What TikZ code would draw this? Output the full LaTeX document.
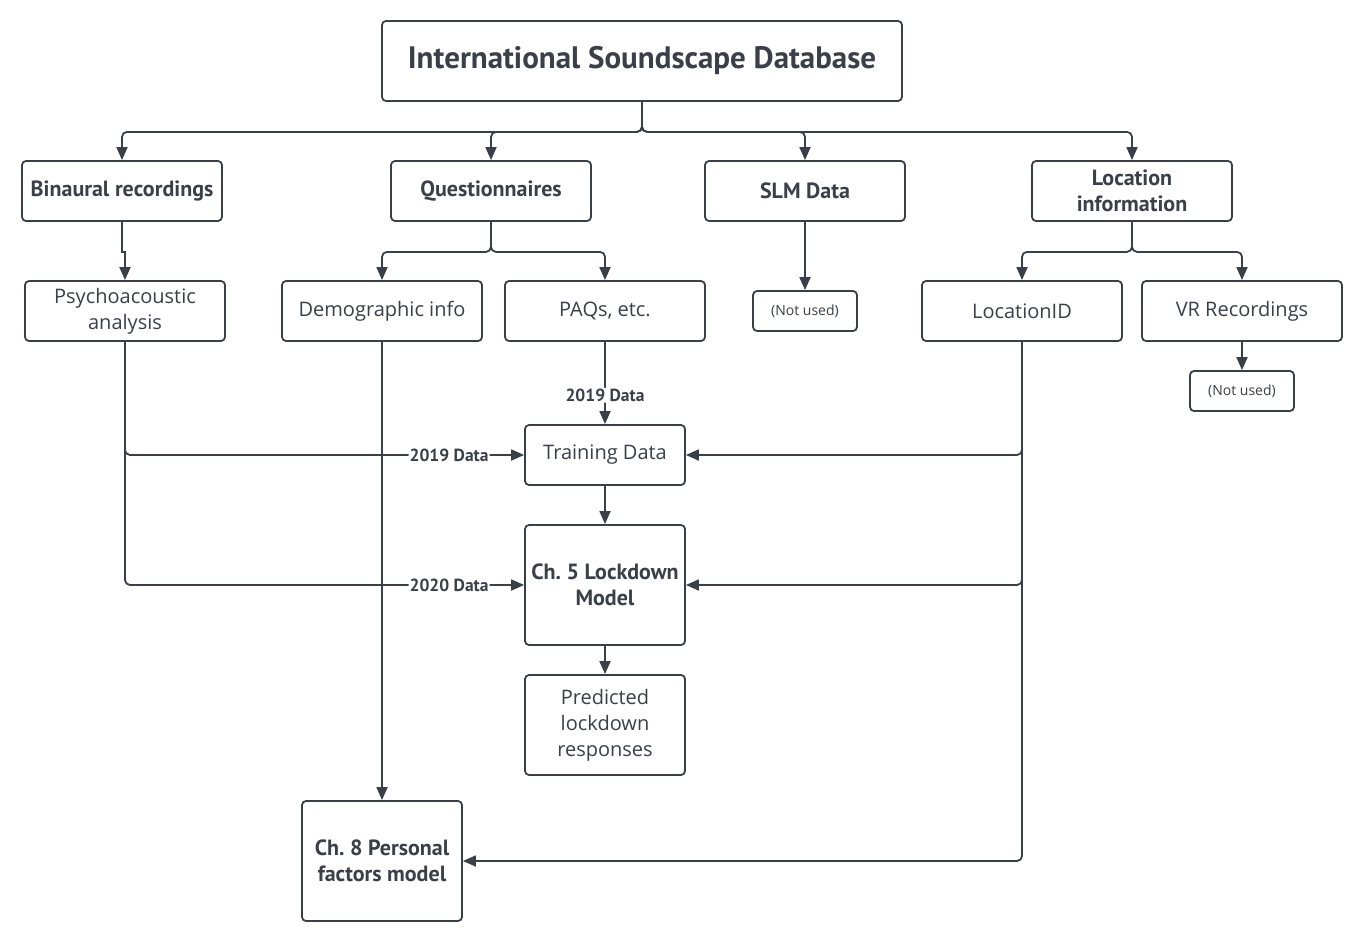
\documentclass[tikz,border=0pt]{standalone}
\usepackage{fontspec}
\setmainfont{Open Sans}
\newfontfamily\ptsans{PT Sans}
\usetikzlibrary{arrows.meta}
\definecolor{lc}{HTML}{3A3F48}
\tikzset{
  box/.style={draw=lc, line width=1.8pt, rounded corners=4pt, fill=white, align=center, text=lc,
    minimum width=200pt, minimum height=60pt, inner sep=2pt},
  bbox/.style={box, font=\ptsans\bfseries\fontsize{22}{26}\selectfont},
  rbox/.style={box, font=\fontsize{20}{26}\selectfont},
  sbox/.style={box, font=\fontsize{14}{16}\selectfont, minimum width=104pt, minimum height=40pt},
  conn/.style={draw=lc, line width=1.8pt, rounded corners=5pt, -{Triangle[length=13pt,width=11pt]}},
  lbl/.style={fill=white, inner sep=1pt, text=lc, font=\ptsans\bfseries\fontsize{17.5}{19}\selectfont},
}
\begin{document}
\frenchspacing
\begin{tikzpicture}[x=1pt,y=-1pt]
\useasboundingbox (0,0) rectangle (1362,942);
% nodes
\node[box, minimum width=520pt, minimum height=80pt, font=\ptsans\bfseries\fontsize{31}{34}\selectfont] (isd) at (642,61) {International Soundscape Database};
\node[bbox] (bin) at (122,191) {Binaural recordings};
\node[bbox] (que) at (491,191) {Questionnaires};
\node[bbox] (slm) at (805,191) {SLM Data};
\node[bbox] (loi) at (1132,191) {Location\\information};
\node[rbox] (psy) at (125,311) {Psychoacoustic\\analysis};
\node[rbox] (dem) at (382,311) {Demographic info};
\node[rbox] (paq) at (605,311) {PAQs, etc.};
\node[sbox] (nu1) at (805,311) {(Not used)};
\node[rbox] (lid) at (1022,311) {LocationID};
\node[rbox] (vrr) at (1242,311) {VR Recordings};
\node[sbox] (nu2) at (1242,391) {(Not used)};
\node[rbox, minimum width=160pt] (trn) at (605,455) {Training Data};
\node[bbox, minimum width=160pt, minimum height=120pt] (ch5) at (605,585) {Ch. 5 Lockdown\\Model};
\node[rbox, minimum width=160pt, minimum height=100pt] (pre) at (605,725) {Predicted\\lockdown\\responses};
\node[bbox, minimum width=160pt, minimum height=120pt] (ch8) at (382,861) {Ch. 8 Personal\\factors model};
% top tree
\foreach \t in {bin,que,slm,loi}
  \draw[conn] (isd.south) -- ++(0,30) -| (\t.north);
\draw[conn, sharp corners] (bin.south) -- ++(0,30) -| (psy.north);
\draw[conn] (que.south) -- ++(0,30) -| (dem.north);
\draw[conn] (que.south) -- ++(0,30) -| (paq.north);
\draw[conn] (slm.south) -- (nu1.north);
\draw[conn] (loi.south) -- ++(0,30) -| (lid.north);
\draw[conn] (loi.south) -- ++(0,30) -| (vrr.north);
\draw[conn] (vrr.south) -- (nu2.north);
% data flows
\draw[conn] (psy.south) |- (trn.west) node[lbl, pos=0.906] (l1) {2019 Data};
\draw[conn] (psy.south) |- (ch5.west) node[lbl, pos=0.906] (l2) {2020 Data};
\draw[conn] (paq.south) -- (trn.north) node[lbl, pos=0.65] (l3) {2019 Data};
\draw[conn] (lid.south) |- (trn.east);
\draw[conn] (lid.south) |- (ch5.east);
\draw[conn] (lid.south) |- (ch8.east);
\draw[conn] (dem.south) -- (ch8.north);
\draw[conn] (trn.south) -- (ch5.north);
\draw[conn] (ch5.south) -- (pre.north);
\end{tikzpicture}
\end{document}
